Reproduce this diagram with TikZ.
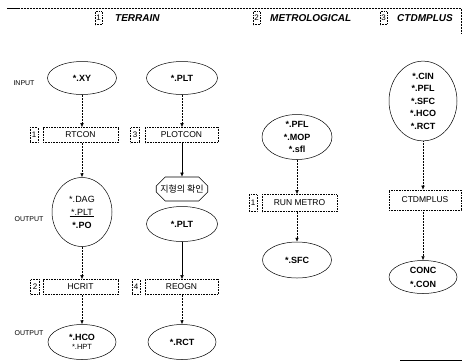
\documentclass[tikz,border=0pt]{standalone}
\usepackage{fontspec}
\setmainfont{Liberation Sans}
\newfontfamily\krfont{Noto Sans CJK KR}
\usetikzlibrary{arrows.meta,shapes.geometric,shapes.misc}
\begin{document}
\begin{tikzpicture}[x=1pt,y=-1pt,
 every node/.style={inner sep=0pt},
 arr/.style={-{Latex[length=4pt,width=3.5pt]}, line width=0.5pt},
 dotc/.style={arr, densely dotted},
 solc/.style={arr},
 dashc/.style={arr, dash pattern=on 2pt off 1.2pt},
 proc/.style={draw, densely dotted, line width=0.6pt, minimum height=15pt, font=\fontsize{8.5}{9}\selectfont},
 num/.style={draw, densely dotted, line width=0.6pt, minimum width=8pt, minimum height=15pt, font=\fontsize{8}{8}\selectfont},
 file/.style={draw, ellipse, line width=0.5pt, align=center, font=\bfseries\fontsize{9}{10}\selectfont},
 lab/.style={font=\fontsize{7}{7}\selectfont},
 head/.style={font=\bfseries\itshape\fontsize{10}{11}\selectfont, anchor=west},
]
\useasboundingbox (0,0) rectangle (462,362);

% border fragments
\draw[densely dotted, line width=0.5pt] (7,8) -- (461,8) -- (461,33);
\draw[line width=1pt] (7,8) -- (20,8);
\draw[line width=0.6pt] (400,360) -- (462,360);

% headers
\node[num, minimum width=7pt, minimum height=13pt] (h1) at (98.5,18) {1};
\node[head] (t1) at (115,18) {TERRAIN};
\node[num, minimum width=7pt, minimum height=13pt] (h2) at (256.5,18) {2};
\node[head] (t2) at (270,18) {METROLOGICAL};
\node[num, minimum width=7pt, minimum height=13pt] (h3) at (383.5,18) {3};
\node[head] (t3) at (397,18) {CTDMPLUS};

% side labels
\node[lab] (inp) at (24,83) {INPUT};
\node[lab] (out1) at (29,219) {OUTPUT};
\node[lab] (out2) at (29,333) {OUTPUT};

% column 1
\node[file, minimum width=69pt, minimum height=33pt] (xy) at (82,78) {*.XY};
\node[proc, minimum width=75pt] (rtcon) at (80.5,135) {RTCON};
\node[num] (n1) at (34,135) {1};
\node[file, minimum width=60pt, minimum height=69pt, font=\fontsize{9}{13}\selectfont] (dag) at (82,212)
  {*.DAG\\\underline{\,*.PLT\,}\\{\bfseries *.PO}};
\node[proc, minimum width=75pt] (hcrit) at (80.5,287) {HCRIT};
\node[num, minimum width=9pt] (n2) at (35,287) {2};
\node[file, minimum width=68pt, minimum height=35pt] (hco) at (82,342)
  {*.HCO\\[-1pt]{\mdseries\fontsize{7.5}{8}\selectfont *.HPT}};

% column 2
\node[file, minimum width=71pt, minimum height=33pt] (pltin) at (182,78) {*.PLT};
\node[proc, minimum width=73pt] (plotcon) at (181.5,135) {PLOTCON};
\node[num, minimum width=9pt] (n3) at (135,135) {3};
\node[draw, chamfered rectangle, chamfered rectangle xsep=3pt, chamfered rectangle ysep=6pt, line width=0.6pt,
  minimum width=50pt, minimum height=24pt, inner xsep=1pt] (kor) at (182,189)
  {\krfont\fontsize{9}{9}\selectfont 지형의 확인};
\node[file, minimum width=71pt, minimum height=35pt] (plt2) at (182,224) {*.PLT};
\node[proc, minimum width=73pt] (reogn) at (181.5,287) {REOGN};
\node[num] (n4) at (136,287) {4};
\node[file, minimum width=68pt, minimum height=35pt] (rct) at (182,342) {*.RCT};

% metrological
\node[file, minimum width=70pt, minimum height=45pt, font=\bfseries\fontsize{9}{12.5}\selectfont] (metin) at (297,137)
  {*.PFL\\*.MOP\\*.sfl};
\node[proc, minimum width=75pt, minimum height=17pt] (runm) at (299.5,203) {RUN METRO};
\node[num, minimum height=17pt] (n5) at (253,203) {1};
\node[file, minimum width=69pt, minimum height=36pt] (sfc) at (297,260) {*.SFC};

% ctdmplus
\node[file, minimum width=68pt, minimum height=78pt, font=\bfseries\fontsize{9}{12.5}\selectfont] (ctin) at (423,101)
  {*.CIN\\*.PFL\\*.SFC\\*.HCO\\*.RCT};
\node[proc, minimum width=72pt, minimum height=20pt] (ctdm) at (425,200) {CTDMPLUS};
\node[file, minimum width=68pt, minimum height=33pt, font=\bfseries\fontsize{9}{14}\selectfont] (conc) at (423,277)
  {CONC\\*.CON};

% connectors column 1
\draw[dotc] (xy.south) -- (xy.south |- rtcon.north);
\draw[dotc] (xy.south |- rtcon.south) -- (dag.north);
\draw[dotc] (dag.south) -- (dag.south |- hcrit.north);
\draw[dashc] (dag.south |- hcrit.south) -- (hco.north);

% connectors column 2
\draw[dotc] (pltin.south) -- (pltin.south |- plotcon.north);
\draw[solc] (pltin.south |- plotcon.south) -- (kor.north);
\draw[solc] (plt2.south) -- (plt2.south |- reogn.north);
\draw[dashc] (plt2.south |- reogn.south) -- (rct.north);

% metro
\draw[dotc] (metin.south) -- (metin.south |- runm.north);
\draw[dotc] (metin.south |- runm.south) -- (sfc.north);

% ctdmplus
\draw[dotc] (ctin.south) -- (ctin.south |- ctdm.north);
\draw[dotc] (ctin.south |- ctdm.south) -- (conc.north);
\end{tikzpicture}
\end{document}
